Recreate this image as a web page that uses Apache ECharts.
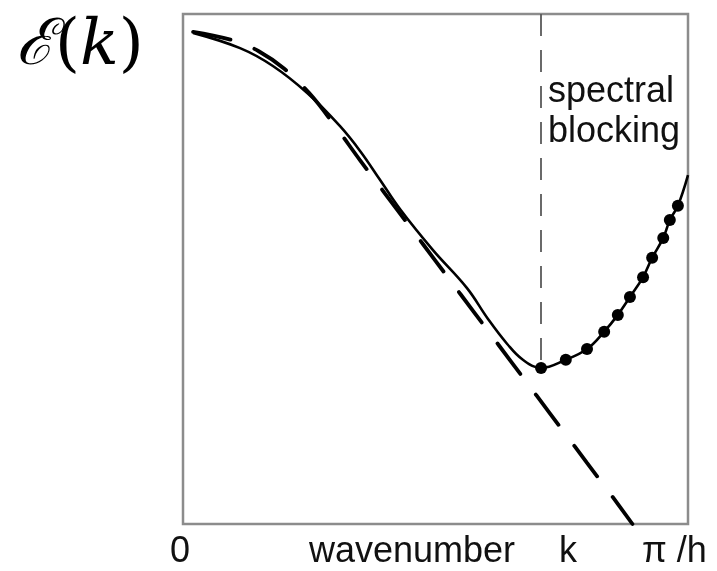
<!DOCTYPE html>
<html>
<head>
<meta charset="utf-8">
<script src="https://cdn.jsdelivr.net/npm/echarts@6/dist/echarts.min.js"></script>
<style>
  html, body { margin: 0; padding: 0; background: #fff; }
  #chart { width: 717px; height: 571px; }
</style>
</head>
<body>
<div id="chart"></div>
<script>
// wavenumber scaled 0..pi/h -> 0..1, energy on a 0..1 (log-ish) scale
const dashedK = [0.02, 0.1, 0.15, 0.2, 0.25, 0.3, 0.35, 0.4, 0.45, 0.5, 0.55, 0.6, 0.65, 0.7, 0.75, 0.8, 0.85, 0.89];
const dashedE = [0.965, 0.948, 0.927, 0.893, 0.845, 0.782, 0.714, 0.648, 0.582, 0.516, 0.45, 0.384, 0.318, 0.252, 0.186, 0.12, 0.054, 0.0];

const solidK = [0.02, 0.113, 0.178, 0.246, 0.311, 0.351, 0.39, 0.43, 0.495, 0.562, 0.604, 0.642, 0.673, 0.709,
                0.758, 0.8, 0.834, 0.861, 0.885, 0.911, 0.929, 0.951, 0.964, 0.98, 1.0];
const solidE = [0.963, 0.933, 0.898, 0.845, 0.78, 0.731, 0.675, 0.617, 0.537, 0.463, 0.402, 0.353, 0.322, 0.306,
                0.322, 0.343, 0.377, 0.41, 0.445, 0.484, 0.522, 0.561, 0.596, 0.624, 0.684];

// dots on the blocked part of the spectrum
const dotK = [0.709, 0.758, 0.8, 0.834, 0.861, 0.885, 0.911, 0.929, 0.951, 0.964, 0.98];
const dotE = [0.306, 0.322, 0.343, 0.377, 0.41, 0.445, 0.484, 0.522, 0.561, 0.596, 0.624];

const cutoffK = 0.709;
const cutoffE = 0.306;

const zip = (a, b) => a.map((v, i) => [v, b[i]]);

const chart = echarts.init(document.getElementById('chart'));
const option = {
  animation: false,
  backgroundColor: '#fff',
  grid: {
    left: 183, top: 14, width: 505, height: 510,
    show: true,
    borderColor: '#8c8c8c',
    borderWidth: 2.5
  },
  xAxis: {
    type: 'value', min: 0, max: 1,
    axisLine: { show: false }, axisTick: { show: false },
    axisLabel: { show: false }, splitLine: { show: false }
  },
  yAxis: {
    type: 'value', min: 0, max: 1,
    axisLine: { show: false }, axisTick: { show: false },
    axisLabel: { show: false }, splitLine: { show: false }
  },
  series: [
    {
      name: 'dashed',
      type: 'line',
      data: zip(dashedK, dashedE),
      smooth: 0.4,
      showSymbol: false,
      clip: true,
      lineStyle: { color: '#000', width: 3.8, type: [38, 26], cap: 'round' }
    },
    {
      name: 'spectrum',
      type: 'line',
      data: zip(solidK, solidE),
      smooth: 0.4,
      showSymbol: false,
      lineStyle: { color: '#000', width: 2.6 },
      markLine: {
        silent: true,
        symbol: 'none',
        label: { show: false },
        lineStyle: { color: '#5a5a5a', width: 1.8, type: [22, 14] },
        data: [[{ coord: [cutoffK, 1] }, { coord: [cutoffK, cutoffE] }]]
      }
    },
    {
      name: 'dots',
      type: 'scatter',
      data: zip(dotK, dotE),
      symbol: 'circle',
      symbolSize: 12,
      itemStyle: { color: '#000', opacity: 1 }
    }
  ],
  graphic: [
    {
      type: 'text', left: 16, top: 15,
      style: {
        text: '{e|ℰ}{p|(}{k|k}{p|)}',
        rich: {
          e: { fontFamily: 'DejaVu Serif', fontStyle: 'italic', fontSize: 64, fill: '#000' },
          p: { fontFamily: 'DejaVu Serif', fontSize: 64, fill: '#000' },
          k: { fontFamily: 'DejaVu Serif', fontStyle: 'italic', fontSize: 64, fill: '#000' }
        }
      }
    },
    {
      type: 'text', left: 548, top: 72,
      style: {
        text: 'spectral\nblocking',
        fontFamily: 'Liberation Sans', fontSize: 36, lineHeight: 40, fill: '#111'
      }
    },
    {
      type: 'text', left: 170, top: 534,
      style: { text: '0', fontFamily: 'Liberation Sans', fontSize: 36, fill: '#111' }
    },
    {
      type: 'text', left: 309, top: 534,
      style: { text: 'wavenumber', fontFamily: 'Liberation Sans', fontSize: 36, fill: '#111' }
    },
    {
      type: 'text', left: 559, top: 534,
      style: { text: 'k', fontFamily: 'Liberation Sans', fontSize: 36, fill: '#111' }
    },
    {
      type: 'text', left: 642, top: 534,
      style: { text: 'π /h', fontFamily: 'Liberation Sans', fontSize: 36, fill: '#111' }
    }
  ]
};
chart.setOption(option);
</script>
</body>
</html>
